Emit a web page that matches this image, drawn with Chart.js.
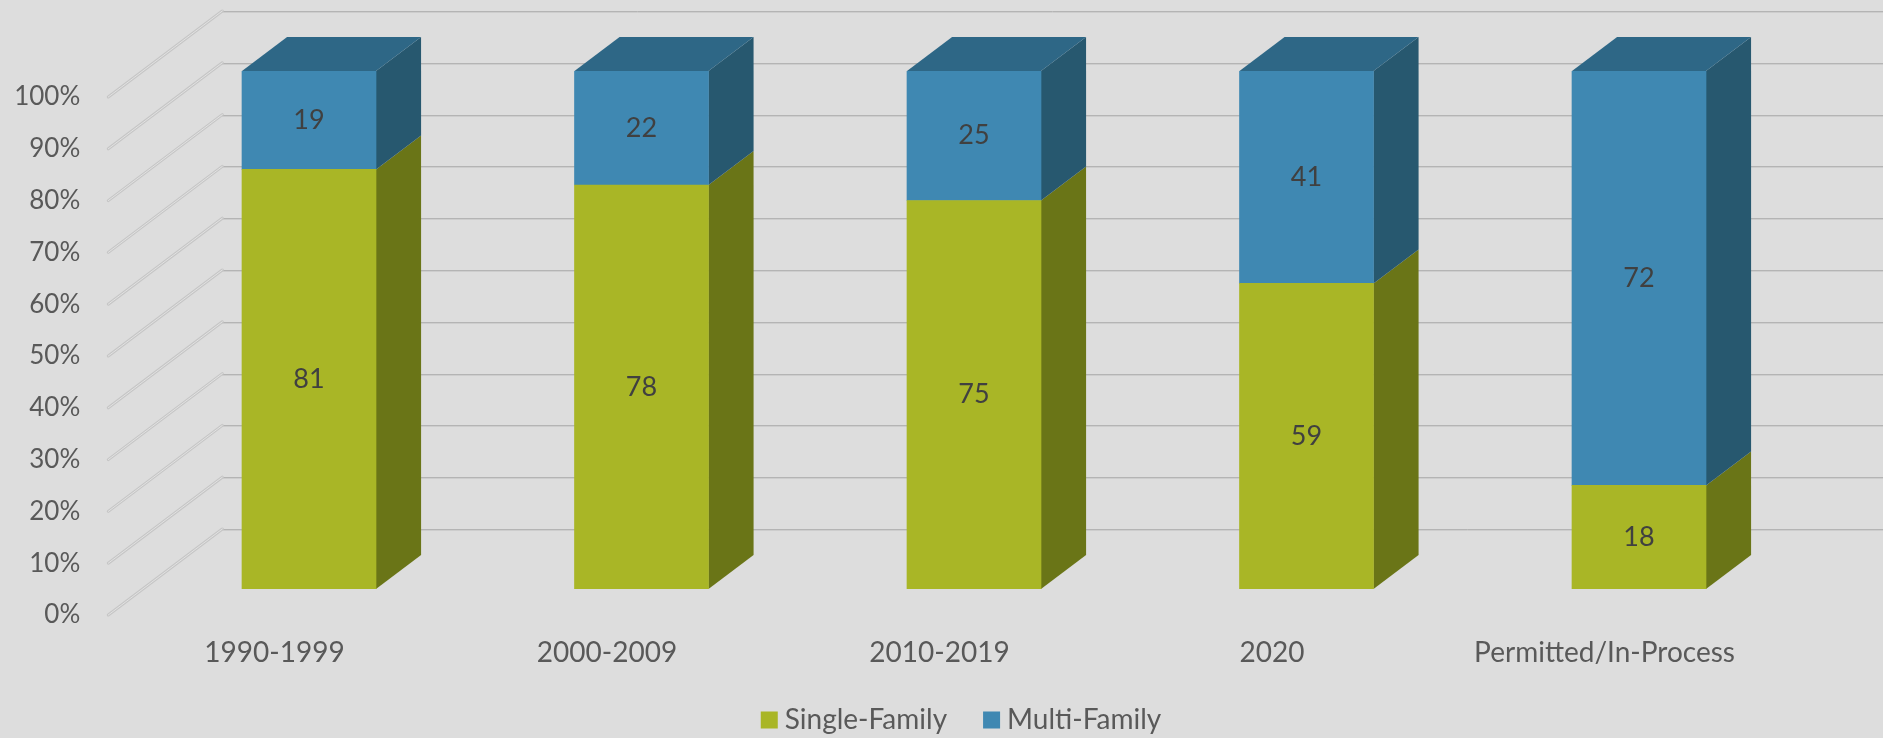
<!DOCTYPE html>
<html>
<head>
<meta charset="utf-8">
<script src="https://cdn.jsdelivr.net/npm/chart.js@4/dist/chart.umd.min.js"></script>
<style>
  html, body { margin: 0; padding: 0; background: #dddddd; }
  #wrap { width: 1883px; height: 738px; }
</style>
</head>
<body>
<div id="wrap"><canvas id="c" width="1883" height="738"></canvas></div>
<script>
const categories = ['1990-1999', '2000-2009', '2010-2019', '2020', 'Permitted/In-Process'];
const seriesNames = ['Single-Family', 'Multi-Family'];
const singleFamily = [81, 78, 75, 59, 18];
const multiFamily = [19, 22, 25, 41, 72];
const tickValues = [0, 10, 20, 30, 40, 50, 60, 70, 80, 90, 100];
const tickLabels = ['0%', '10%', '20%', '30%', '40%', '50%', '60%', '70%', '80%', '90%', '100%'];

const totals = singleFamily.map((v, i) => v + multiFamily[i]);
const singlePct = singleFamily.map((v, i) => v / totals[i] * 100);
const multiPct = multiFamily.map((v, i) => v / totals[i] * 100);
const rawValues = [singleFamily, multiFamily];

const FONT = 'Lato, "Open Sans", sans-serif';
const TEXT = '#595959';
const frontColors = ['#a9b626', '#3f88b2'];
const sideColors = ['#6a7517', '#27586f'];
const topColors = ['#6a7517', '#2e6786'];

// depth geometry (px)
const DX = 1.326;
const BAR_DEPTH = 34;
const WALL_DEPTH = 60;
const FRONT_DEPTH = 26;

const threeD = {
  id: 'threeD',
  beforeDatasetsDraw(chart) {
    const ctx = chart.ctx;
    const y = chart.scales.y;
    const area = chart.chartArea;
    const backX = area.left + WALL_DEPTH * DX;
    const frontX = area.left - FRONT_DEPTH * DX;
    ctx.save();
    tickValues.forEach((v, i) => {
      const yb = y.getPixelForValue(v);
      const yBack = Math.round(yb - WALL_DEPTH) + 0.5;
      const yFront = yb + FRONT_DEPTH;
      ctx.lineWidth = 1;
      ctx.strokeStyle = '#b4b4b4';
      ctx.beginPath(); ctx.moveTo(backX, yBack); ctx.lineTo(chart.width, yBack); ctx.stroke();
      ctx.strokeStyle = '#cdcdcd';
      ctx.beginPath(); ctx.moveTo(backX, yBack + 1); ctx.lineTo(chart.width, yBack + 1); ctx.stroke();
      ctx.lineCap = 'round';
      ctx.lineWidth = 3;
      ctx.strokeStyle = '#c6c6c6';
      ctx.beginPath(); ctx.moveTo(frontX, yFront); ctx.lineTo(backX, yb - WALL_DEPTH); ctx.stroke();
      ctx.lineWidth = 1;
      ctx.strokeStyle = '#e2e2e2';
      ctx.beginPath(); ctx.moveTo(frontX, yFront); ctx.lineTo(backX, yb - WALL_DEPTH); ctx.stroke();
      ctx.fillStyle = TEXT;
      ctx.font = '26px ' + FONT;
      ctx.textAlign = 'right';
      ctx.textBaseline = 'middle';
      ctx.fillText(tickLabels[i], frontX - 28, yFront);
    });
    const dx = BAR_DEPTH * DX;
    chart.data.datasets.forEach((ds, d) => {
      const meta = chart.getDatasetMeta(d);
      meta.data.forEach((bar, i) => {
        const right = bar.x + bar.width / 2;
        const left = bar.x - bar.width / 2;
        const top = Math.min(bar.y, bar.base);
        const bot = Math.max(bar.y, bar.base);
        ctx.fillStyle = sideColors[d];
        ctx.beginPath();
        ctx.moveTo(right, bot);
        ctx.lineTo(right + dx, bot - BAR_DEPTH);
        ctx.lineTo(right + dx, top - BAR_DEPTH);
        ctx.lineTo(right, top);
        ctx.closePath();
        ctx.fill();
        if (d === chart.data.datasets.length - 1) {
          ctx.fillStyle = topColors[d];
          ctx.beginPath();
          ctx.moveTo(left, top);
          ctx.lineTo(left + dx, top - BAR_DEPTH);
          ctx.lineTo(right + dx, top - BAR_DEPTH);
          ctx.lineTo(right, top);
          ctx.closePath();
          ctx.fill();
        }
      });
    });
    ctx.restore();
  },
  afterDatasetsDraw(chart) {
    const ctx = chart.ctx;
    const area = chart.chartArea;
    ctx.save();
    ctx.textAlign = 'center';
    ctx.textBaseline = 'middle';
    chart.data.datasets.forEach((ds, d) => {
      const meta = chart.getDatasetMeta(d);
      meta.data.forEach((bar, i) => {
        ctx.fillStyle = '#404040';
        ctx.font = '27px ' + FONT;
        ctx.fillText(String(rawValues[d][i]), bar.x, (bar.y + bar.base) / 2);
      });
    });
    const meta0 = chart.getDatasetMeta(0);
    ctx.fillStyle = TEXT;
    ctx.font = '28px ' + FONT;
    categories.forEach((c, i) => {
      const bar = meta0.data[i];
      ctx.fillText(c, bar.x - FRONT_DEPTH * DX, area.bottom + 64);
    });
    const legendY = 720;
    ctx.font = '28px ' + FONT;
    ctx.textAlign = 'left';
    const box = 17, gapBox = 7, gapItem = 36;
    const widths = seriesNames.map(n => box + gapBox + ctx.measureText(n).width);
    const total = widths.reduce((a, b) => a + b, 0) + gapItem;
    let x = 961 - total / 2;
    seriesNames.forEach((n, d) => {
      ctx.fillStyle = frontColors[d];
      ctx.fillRect(x, legendY - box / 2, box, box);
      ctx.fillStyle = TEXT;
      ctx.fillText(n, x + box + gapBox, legendY);
      x += widths[d] + gapItem;
    });
    ctx.restore();
  }
};

new Chart(document.getElementById('c'), {
  type: 'bar',
  data: {
    labels: categories,
    datasets: [
      { label: seriesNames[0], data: singlePct, backgroundColor: frontColors[0], borderWidth: 0, barThickness: 134 },
      { label: seriesNames[1], data: multiPct, backgroundColor: frontColors[1], borderWidth: 0, barThickness: 134 }
    ]
  },
  options: {
    responsive: false,
    animation: false,
    layout: { padding: { left: 142.75, right: 77.75, top: 71, bottom: 149 } },
    plugins: { legend: { display: false }, tooltip: { enabled: false }, title: { display: false } },
    scales: {
      x: { stacked: true, display: false, offset: true },
      y: { stacked: true, display: false, min: 0, max: 100 }
    }
  },
  plugins: [threeD]
});
</script>
</body>
</html>
